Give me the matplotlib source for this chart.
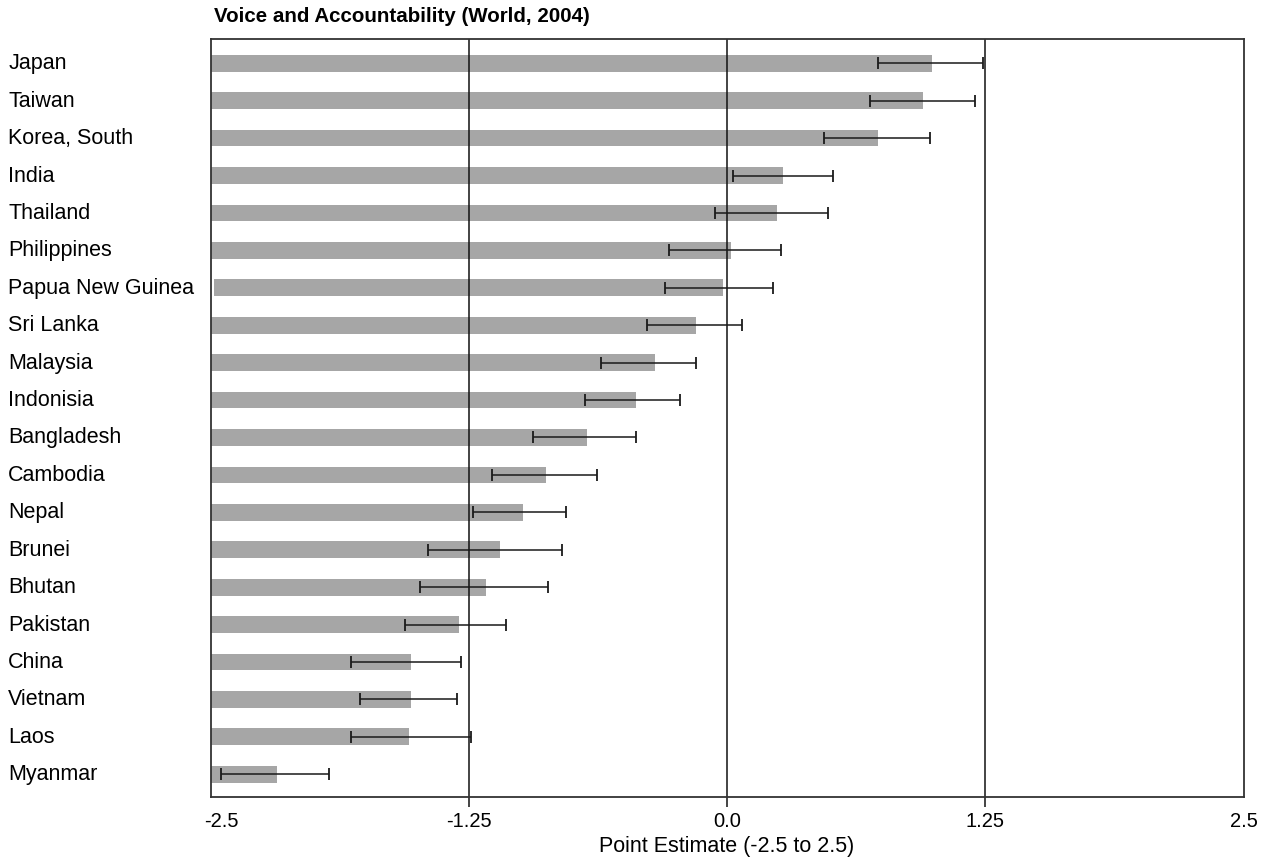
import matplotlib
matplotlib.use("Agg")
import matplotlib.pyplot as plt
import matplotlib.transforms as mtransforms
import numpy as np

plt.rcParams['font.family'] = ['Liberation Sans', 'DejaVu Sans']

countries = ["Japan", "Taiwan", "Korea, South", "India", "Thailand", "Philippines",
             "Papua New Guinea", "Sri Lanka", "Malaysia", "Indonisia", "Bangladesh",
             "Cambodia", "Nepal", "Brunei", "Bhutan", "Pakistan", "China", "Vietnam",
             "Laos", "Myanmar"]
estimate = [0.99, 0.95, 0.73, 0.27, 0.24, 0.02, -0.02, -0.15, -0.35, -0.44, -0.68,
            -0.88, -0.99, -1.10, -1.17, -1.30, -1.53, -1.53, -1.54, -2.18]
lower = [0.73, 0.69, 0.47, 0.03, -0.06, -0.28, -0.30, -0.39, -0.61, -0.69, -0.94,
         -1.14, -1.23, -1.45, -1.49, -1.56, -1.82, -1.78, -1.82, -2.45]
upper = [1.24, 1.20, 0.98, 0.51, 0.49, 0.26, 0.22, 0.07, -0.15, -0.23, -0.44,
         -0.63, -0.78, -0.80, -0.87, -1.07, -1.29, -1.31, -1.24, -1.93]
bar_start = [-2.5, -2.5, -2.5, -2.5, -2.5, -2.5, -2.486, -2.5, -2.5, -2.5, -2.5,
             -2.5, -2.5, -2.5, -2.5, -2.5, -2.5, -2.5, -2.5, -2.5]
xticks_major = [-1.25, 0.0, 1.25]
xticks_edge = [-2.5, 2.5]
xtick_major_labels = ["-1.25", "0.0", "1.25"]
xtick_edge_labels = ["-2.5", "2.5"]

W, H = 1264, 862
fig = plt.figure(figsize=(W / 100, H / 100), dpi=100)
ax = fig.add_axes([211 / W, 1 - 797.7 / H, (1243.5 - 211) / W, (797.7 - 39.5) / H])

est = np.array(estimate)
lo = np.array(lower)
hi = np.array(upper)
start = np.array(bar_start)
y = np.arange(len(countries))

ax.barh(y, est - start, left=start, height=0.446, color="#a6a6a6", zorder=1)

for xv in xticks_major:
    ax.axvline(xv, color="#111111", lw=1.1, zorder=2)

ax.errorbar(est, y, xerr=[est - lo, hi - est], fmt="none", ecolor="#1a1a1a",
            elinewidth=1.1, capsize=4.5, capthick=1.3, zorder=3)

ax.set_xlim(-2.5, 2.5)
ax.set_ylim(19.6, -0.663)

ax.set_yticks(y)
ax.set_yticklabels(countries, ha="left", fontsize=15.5)
ax.tick_params(axis="y", length=0, pad=146)
yoff = mtransforms.ScaledTranslation(0, 3 / 100, fig.dpi_scale_trans)
for lbl in ax.get_yticklabels():
    lbl.set_transform(lbl.get_transform() + yoff)

ax.set_xticks(xticks_major)
ax.set_xticklabels(xtick_major_labels, fontsize=14.5)
ax.tick_params(axis="x", which="major", length=7.2, width=1.1, color="#111111", pad=3.4)
ax.set_xticks(xticks_edge, minor=True)
ax.set_xticklabels(xtick_edge_labels, minor=True, fontsize=14.5)
ax.tick_params(axis="x", which="minor", length=0, pad=10.6)

# nudge the leftmost edge label slightly right, as in the reference
offset = mtransforms.ScaledTranslation(10 / 100, 0, fig.dpi_scale_trans)
for lbl in ax.xaxis.get_minorticklabels():
    if lbl.get_text() == "-2.5":
        lbl.set_transform(lbl.get_transform() + offset)

for sp in ax.spines.values():
    sp.set_color("#333333")
    sp.set_linewidth(1.3)

fig.text(214 / W, 1 - 17 / H, "Voice and Accountability (World, 2004)",
         fontsize=14.8, fontweight="bold", ha="left", va="center")
fig.text(727 / W, 1 - 847 / H, "Point Estimate (-2.5 to 2.5)",
         fontsize=15.5, ha="center", va="center")

fig.savefig("out.png", dpi=100)
